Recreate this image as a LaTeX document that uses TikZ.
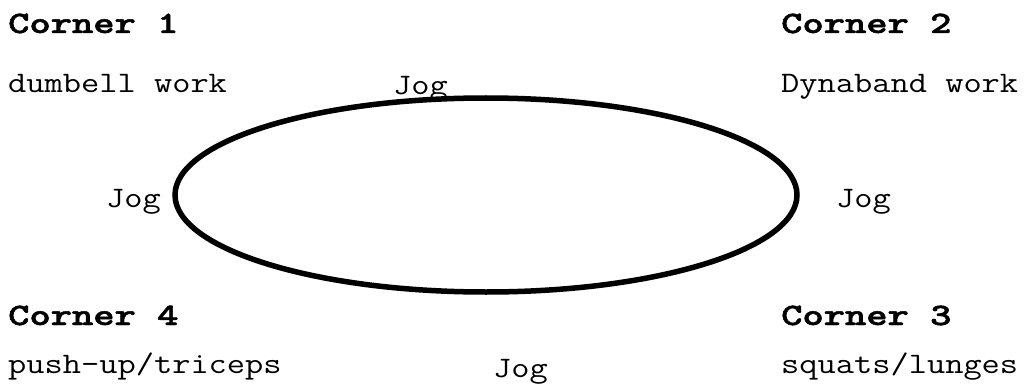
\documentclass[tikz,border=0pt]{standalone}
\usepackage{fontspec}
\newfontfamily\headfont{lmmonolt10-bold}[Extension=.otf, FakeBold=1.5]
\newcommand\squash[1]{\scalebox{1}[0.84]{#1}}
\newcommand\widen[1]{\scalebox{1.145}[0.88]{#1}}
\tikzset{
  lbl/.style={inner sep=0pt, anchor=base west, font=\ttfamily\fontsize{35.4}{35.4}\selectfont},
  head/.style={lbl, font=\headfont\fontsize{35.4}{35.4}\selectfont},
  track/.style={draw=black, line width=5.5pt}
}
\begin{document}
\begin{tikzpicture}[x=1pt,y=1pt]
\useasboundingbox (0,0) rectangle (1028,389);
\draw[track] (486,194) ellipse [x radius=311, y radius=97];
\node[head] (c1) at (8,356) {\widen{Corner 1}};
\node[lbl] (d1) at (8,296) {\squash{dumbell work}};
\node[head] (c2) at (781,356) {\widen{Corner 2}};
\node[lbl] (d2) at (781,296) {\squash{Dynaband work}};
\node[head] (c4) at (8,64) {\widen{Corner 4}};
\node[lbl] (d4) at (8,16) {\squash{push-up/triceps}};
\node[head] (c3) at (781,64) {\widen{Corner 3}};
\node[lbl] (d3) at (781,16) {\squash{squats/lunges}};
\node[lbl] (jt) at (393,294) {\squash{Jog}};
\node[lbl] (jl) at (106,182) {\squash{Jog}};
\node[lbl] (jr) at (836,182) {\squash{Jog}};
\node[lbl] (jb) at (493,12) {\squash{Jog}};
\end{tikzpicture}
\end{document}
